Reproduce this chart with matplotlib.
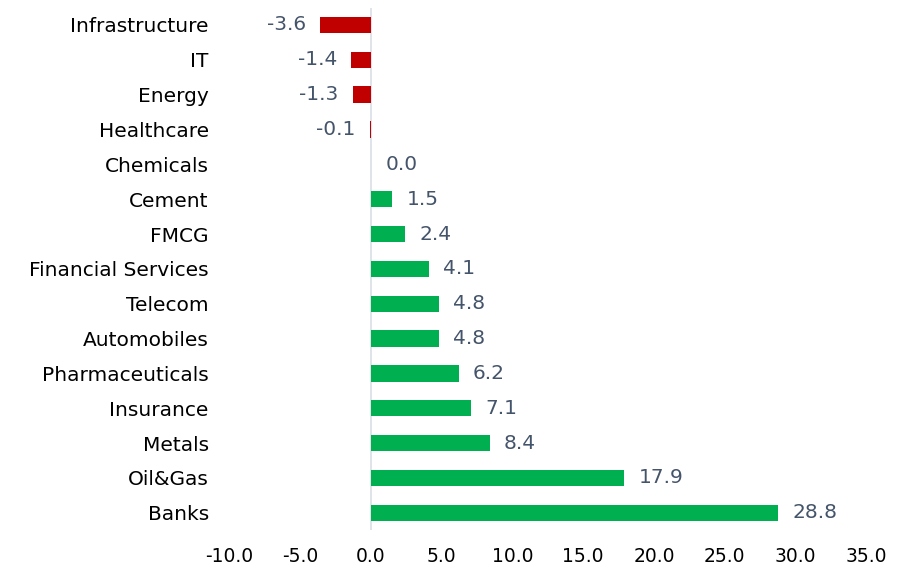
import matplotlib.pyplot as plt
from matplotlib.ticker import FormatStrFormatter

sectors = ["Infrastructure", "IT", "Energy", "Healthcare", "Chemicals", "Cement", "FMCG",
           "Financial Services", "Telecom", "Automobiles", "Pharmaceuticals", "Insurance",
           "Metals", "Oil&Gas", "Banks"]
values = [-3.6, -1.4, -1.3, -0.1, 0.0, 1.5, 2.4, 4.1, 4.8, 4.8, 6.2, 7.1, 8.4, 17.9, 28.8]
xticks = [-10, -5, 0, 5, 10, 15, 20, 25, 30, 35]

RED = "#C00000"
GREEN = "#00B050"
LABEL = "#44546A"

fig = plt.figure(figsize=(9.04, 5.77), dpi=100)
ax = fig.add_axes([0.254, 0.081, 0.704, 0.906])

ypos = list(range(len(sectors)))[::-1]
colors = [RED if v < 0 else GREEN for v in values]
ax.barh(ypos, values, height=0.47, color=colors)

for y, v in zip(ypos, values):
    if v < 0:
        ax.text(v - 1.0, y, f"{v:.1f}", ha="right", va="center", fontsize=14.5, color=LABEL)
    else:
        ax.text(v + 1.0, y, f"{v:.1f}", ha="left", va="center", fontsize=14.5, color=LABEL)

ax.axvline(0, color="#D9DEE6", lw=1.2, zorder=0)
ax.set_xlim(-10, 35)
ax.set_ylim(-0.5, len(sectors) - 0.5)
ax.set_yticks(ypos)
ax.set_yticklabels(sectors, fontsize=14.5)
ax.set_xticks(xticks)
ax.xaxis.set_major_formatter(FormatStrFormatter("%.1f"))
ax.tick_params(axis="x", labelsize=13.5, pad=12)
ax.tick_params(length=0)
ax.tick_params(axis="y", pad=15)
for s in ax.spines.values():
    s.set_visible(False)

fig.savefig("out.png", dpi=100)
